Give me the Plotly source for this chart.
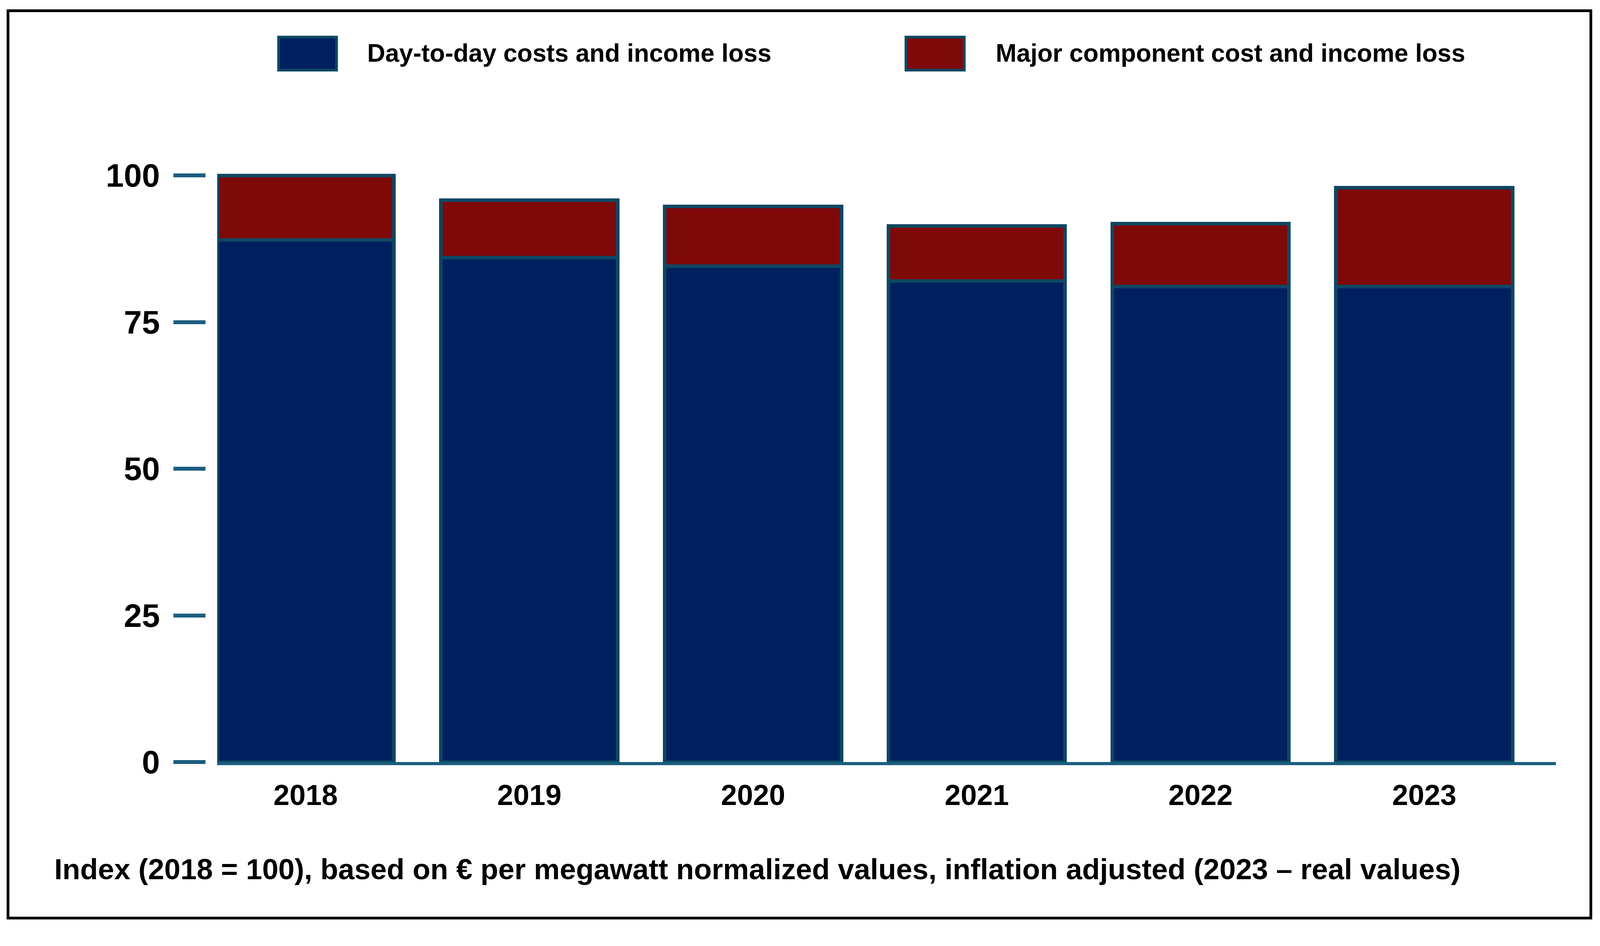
import plotly.graph_objects as go

years = ["2018", "2019", "2020", "2021", "2022", "2023"]
day_to_day = [89.0, 86.0, 84.5, 82.0, 81.1, 81.1]
major_component = [11.0, 9.8, 10.2, 9.4, 10.7, 16.8]
y_ticks = [0, 25, 50, 75, 100]
series_names = ["Day-to-day costs and income loss", "Major component cost and income loss"]
caption = "Index (2018 = 100), based on € per megawatt normalized values, inflation adjusted (2023 – real values)"

REF_W, H = 4198, 2422   # reference geometry (positions below are read in these pixels)
W = 4096                # browser viewport width actually available
BLUE = "#002060"
RED = "#7F0909"
OUTLINE = "#0E4763"
AXIS = "#1B5D7F"
FONT = "Liberation Sans, Arial, sans-serif"

def px_x(v):
    return v / REF_W

def px_y(v):
    return (H - v) / H

fig = go.Figure()
fig.add_trace(go.Bar(x=years, y=day_to_day, name=series_names[0],
                     marker=dict(color=BLUE, line=dict(color=OUTLINE, width=9)),
                     width=0.79))
fig.add_trace(go.Bar(x=years, y=major_component, name=series_names[1],
                     marker=dict(color=RED, line=dict(color=OUTLINE, width=9)),
                     width=0.79))

fig.update_layout(
    width=W, height=H,
    autosize=False,
    barmode="stack",
    showlegend=False,
    paper_bgcolor="white",
    plot_bgcolor="white",
    margin=dict(l=0, r=0, t=0, b=0, pad=0),
    font=dict(family=FONT, color="black"),
    xaxis=dict(
        domain=[px_x(570), px_x(4082)],
        range=[-0.395, 5.588],
        type="category",
        showgrid=False, zeroline=False,
        showline=True, linecolor=AXIS, linewidth=8,
        ticks="",
        tickfont=dict(size=74, family=FONT, weight="bold", color="black"),
        ticklabelstandoff=13,
        anchor="y",
    ),
    yaxis=dict(
        domain=[px_y(1990), px_y(1990 - 15.32 * 110)],
        range=[0, 110],
        anchor="free",
        position=px_x(539),
        showgrid=False, zeroline=False, showline=False,
        tickvals=y_ticks,
        ticktext=[str(v) for v in y_ticks],
        ticks="outside", ticklen=82, tickwidth=10, tickcolor=AXIS,
        tickfont=dict(size=83, family=FONT, weight="bold", color="black"),
        ticklabelstandoff=18,
    ),
)

shapes = []
# outer frame
shapes.append(dict(type="rect", xref="paper", yref="paper",
                   x0=px_x(21), x1=px_x(4174), y0=px_y(2397), y1=px_y(28),
                   line=dict(color="black", width=7), fillcolor="rgba(0,0,0,0)"))
# legend swatches
for x0, x1, col in [(731, 883, BLUE), (2377, 2530, RED)]:
    shapes.append(dict(type="rect", xref="paper", yref="paper",
                       x0=px_x(x0), x1=px_x(x1), y0=px_y(183), y1=px_y(97),
                       line=dict(color=OUTLINE, width=7), fillcolor=col))
fig.update_layout(shapes=shapes)

annotations = [
    dict(text=series_names[0], xref="paper", yref="paper", x=px_x(961), y=px_y(139),
         xanchor="left", yanchor="middle", showarrow=False,
         font=dict(size=64, family=FONT, weight="bold", color="black")),
    dict(text=series_names[1], xref="paper", yref="paper", x=px_x(2610), y=px_y(139),
         xanchor="left", yanchor="middle", showarrow=False,
         font=dict(size=64, family=FONT, weight="bold", color="black")),
    dict(text=caption, xref="paper", yref="paper", x=px_x(140), y=px_y(2270),
         xanchor="left", yanchor="middle", showarrow=False,
         font=dict(size=74.5, family=FONT, weight="bold", color="black")),
]
fig.update_layout(annotations=annotations)

fig.write_html(
    "out.html",
    config={"responsive": False, "displayModeBar": False},
    post_script="document.body.style.margin='0';document.body.style.overflow='hidden';",
)
